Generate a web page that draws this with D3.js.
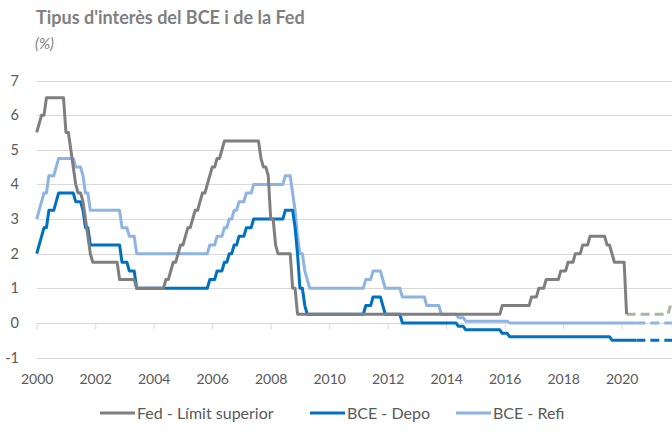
<!DOCTYPE html>
<html>
<head>
<meta charset="utf-8">
<script src="https://cdn.jsdelivr.net/npm/d3@7"></script>
<style>
  body { margin: 0; background: #fff; }
  svg { font-family: Lato, "Open Sans", sans-serif; }
</style>
</head>
<body>
<div id="chart"></div>
<script>
// change dates ("YYYY-MM") and the new rate, in %
const fedChanges = [
  ["2000-01", 5.5], ["2000-02", 5.75], ["2000-03", 6.0], ["2000-05", 6.5],
  ["2001-01", 5.5], ["2001-03", 5.0], ["2001-04", 4.5], ["2001-05", 4.0],
  ["2001-06", 3.75], ["2001-08", 3.5], ["2001-09", 3.0], ["2001-10", 2.5],
  ["2001-11", 2.0], ["2001-12", 1.75], ["2002-11", 1.25], ["2003-06", 1.0],
  ["2004-06", 1.25], ["2004-08", 1.5], ["2004-09", 1.75], ["2004-11", 2.0],
  ["2004-12", 2.25], ["2005-02", 2.5], ["2005-03", 2.75], ["2005-05", 3.0],
  ["2005-06", 3.25], ["2005-08", 3.5], ["2005-09", 3.75], ["2005-11", 4.0],
  ["2005-12", 4.25], ["2006-01", 4.5], ["2006-03", 4.75], ["2006-05", 5.0],
  ["2006-06", 5.25], ["2007-09", 4.75], ["2007-10", 4.5], ["2007-12", 4.25],
  ["2008-01", 3.0], ["2008-03", 2.25], ["2008-04", 2.0], ["2008-10", 1.0],
  ["2008-12", 0.25], ["2015-12", 0.5], ["2016-12", 0.75], ["2017-03", 1.0],
  ["2017-06", 1.25], ["2017-12", 1.5], ["2018-03", 1.75], ["2018-06", 2.0],
  ["2018-09", 2.25], ["2018-12", 2.5], ["2019-07", 2.25], ["2019-09", 2.0],
  ["2019-10", 1.75], ["2020-03", 0.25]
];
const fedEnd = "2020-03";

const depoChanges = [
  ["2000-01", 2.0], ["2000-02", 2.25], ["2000-03", 2.5], ["2000-04", 2.75],
  ["2000-06", 3.25], ["2000-09", 3.5], ["2000-10", 3.75], ["2001-05", 3.5],
  ["2001-08", 3.25], ["2001-09", 2.75], ["2001-11", 2.25], ["2002-12", 1.75],
  ["2003-03", 1.5], ["2003-06", 1.0], ["2005-12", 1.25], ["2006-03", 1.5],
  ["2006-06", 1.75], ["2006-08", 2.0], ["2006-10", 2.25], ["2006-12", 2.5],
  ["2007-03", 2.75], ["2007-06", 3.0], ["2008-07", 3.25], ["2008-11", 2.75],
  ["2008-12", 2.0], ["2009-01", 1.0], ["2009-03", 0.5], ["2009-04", 0.25],
  ["2011-04", 0.5], ["2011-07", 0.75], ["2011-11", 0.5], ["2011-12", 0.25],
  ["2012-07", 0.0], ["2014-06", -0.1], ["2014-09", -0.2], ["2015-12", -0.3],
  ["2016-03", -0.4], ["2019-09", -0.5]
];
const depoEnd = "2020-07";

const refiChanges = [
  ["2000-01", 3.0], ["2000-02", 3.25], ["2000-03", 3.5], ["2000-04", 3.75],
  ["2000-06", 4.25], ["2000-09", 4.5], ["2000-10", 4.75], ["2001-05", 4.5],
  ["2001-08", 4.25], ["2001-09", 3.75], ["2001-11", 3.25], ["2002-12", 2.75],
  ["2003-03", 2.5], ["2003-06", 2.0], ["2005-12", 2.25], ["2006-03", 2.5],
  ["2006-06", 2.75], ["2006-08", 3.0], ["2006-10", 3.25], ["2006-12", 3.5],
  ["2007-03", 3.75], ["2007-06", 4.0], ["2008-07", 4.25], ["2008-10", 3.75],
  ["2008-11", 3.25], ["2008-12", 2.5], ["2009-01", 2.0], ["2009-03", 1.5],
  ["2009-04", 1.25], ["2009-05", 1.0], ["2011-04", 1.25], ["2011-07", 1.5],
  ["2011-11", 1.25], ["2011-12", 1.0], ["2012-07", 0.75], ["2013-05", 0.5],
  ["2013-11", 0.25], ["2014-06", 0.15], ["2014-09", 0.05], ["2016-03", 0.0]
];
const refiEnd = "2020-07";

// market expectations (dashed)
const fedForward = [["2020-03", 0.25], ["2021-08", 0.25], ["2021-09", 0.5]];
const depoForward = [["2020-07", -0.5], ["2021-10", -0.5]];
const refiForward = [["2020-07", 0.0], ["2021-10", 0.0]];

const yTicks = [-1, 0, 1, 2, 3, 4, 5, 6, 7];
const xTicks = [2000, 2002, 2004, 2006, 2008, 2010, 2012, 2014, 2016, 2018, 2020];

const seriesNames = ["Fed - Límit superior", "BCE - Depo", "BCE - Refi"];
const seriesColors = ["#7f7f7f", "#0070c0", "#8db4e2"];
const fedForwardColor = "#a9b79e";

const width = 672;
const height = 435;

const toYear = (s) => {
  const p = s.split("-");
  return +p[0] + (+p[1] - 1) / 12;
};

// monthly line: the month before a change still holds the old value
const buildSteps = (changes, end) => {
  let pts = [];
  changes.forEach((c, i) => {
    let t = toYear(c[0]);
    if (i > 0) pts.push([t - 1 / 12, changes[i - 1][1]]);
    pts.push([t, c[1]]);
  });
  pts.push([toYear(end), changes[changes.length - 1][1]]);
  return pts;
};

const svg = d3
  .select("#chart")
  .append("svg")
  .attr("width", width)
  .attr("height", height);

const x = d3.scaleLinear().domain([2000, 2020]).range([36.7, 621.7]);
const y = d3.scaleLinear().domain([-1, 7]).range([357.5, 80.5]);
const plotRight = width;

// title
svg
  .append("text")
  .attr("x", 36)
  .attr("y", 24)
  .attr("fill", "#7f7f7f")
  .attr("font-weight", "bold")
  .attr("font-size", "18px")
  .text("Tipus d'interès del BCE i de la Fed");

svg
  .append("text")
  .attr("x", 35)
  .attr("y", 49)
  .attr("fill", "#7f7f7f")
  .attr("font-style", "italic")
  .attr("font-size", "15px")
  .text("(%)");

// gridlines
svg
  .append("g")
  .selectAll("line")
  .data(yTicks)
  .enter()
  .append("line")
  .attr("x1", x(2000))
  .attr("x2", plotRight)
  .attr("y1", (d) => Math.round(y(d)) + 0.5)
  .attr("y2", (d) => Math.round(y(d)) + 0.5)
  .attr("stroke", "#d9d9d9")
  .attr("stroke-width", 1);

// y labels
svg
  .append("g")
  .selectAll("text")
  .data(yTicks)
  .enter()
  .append("text")
  .attr("x", 19)
  .attr("y", (d) => y(d))
  .attr("dy", "0.35em")
  .attr("text-anchor", "end")
  .attr("fill", "#595959")
  .attr("font-size", "14.5px")
  .text((d) => d);

// tick marks on the zero line
const tickAxis = d3
  .axisBottom(x)
  .tickValues(xTicks)
  .tickSize(6)
  .tickFormat("");
svg
  .append("g")
  .attr("transform", "translate(0," + (Math.round(y(0)) + 0.5) + ")")
  .call(tickAxis)
  .call((g) => g.select(".domain").remove())
  .call((g) => g.selectAll("line").attr("stroke", "#d9d9d9"));

// year labels under the plot
const labelAxis = d3
  .axisBottom(x)
  .tickValues(xTicks)
  .tickSize(0)
  .tickPadding(0)
  .tickFormat(d3.format("d"));
svg
  .append("g")
  .attr("transform", "translate(0,374)")
  .call(labelAxis)
  .call((g) => g.select(".domain").remove())
  .call((g) =>
    g
      .selectAll("text")
      .attr("fill", "#595959")
      .attr("font-size", "14px")
      .attr("font-family", "Lato, sans-serif")
  );

const line = d3
  .line()
  .x((d) => x(d[0]))
  .y((d) => y(d[1]));

const solid = [
  buildSteps(fedChanges, fedEnd),
  buildSteps(depoChanges, depoEnd),
  buildSteps(refiChanges, refiEnd),
];
const forward = [fedForward, depoForward, refiForward].map((f) =>
  f.map((d) => [toYear(d[0]), d[1]])
);
const forwardColors = [fedForwardColor, seriesColors[1], seriesColors[2]];

svg
  .append("defs")
  .append("clipPath")
  .attr("id", "plotClip")
  .append("rect")
  .attr("x", 0)
  .attr("y", 0)
  .attr("width", plotRight)
  .attr("height", height);

const lines = svg.append("g").attr("clip-path", "url(#plotClip)");

// draw order: refi, depo, fed on top
[2, 1, 0].forEach((i) => {
  lines
    .append("path")
    .datum(forward[i])
    .attr("fill", "none")
    .attr("stroke", forwardColors[i])
    .attr("stroke-width", 3)
    .attr("stroke-dasharray", "9,5")
    .attr("d", line);
});
[2, 1, 0].forEach((i) => {
  lines
    .append("path")
    .datum(solid[i])
    .attr("fill", "none")
    .attr("stroke", seriesColors[i])
    .attr("stroke-width", 3)
    .attr("stroke-linejoin", "round")
    .attr("d", line);
});

// legend
const legendX = [100, 310, 456];
const legend = svg
  .append("g")
  .selectAll("g")
  .data(seriesNames)
  .enter()
  .append("g")
  .attr("transform", (d, i) => "translate(" + legendX[i] + ",413)");

legend
  .append("line")
  .attr("x1", 0)
  .attr("x2", 35)
  .attr("y1", 0)
  .attr("y2", 0)
  .attr("stroke", (d, i) => seriesColors[i])
  .attr("stroke-width", 3);

legend
  .append("text")
  .attr("x", 37)
  .attr("y", 0)
  .attr("dy", "0.35em")
  .attr("fill", "#595959")
  .attr("font-size", "16px")
  .text((d) => d);
</script>
</body>
</html>
